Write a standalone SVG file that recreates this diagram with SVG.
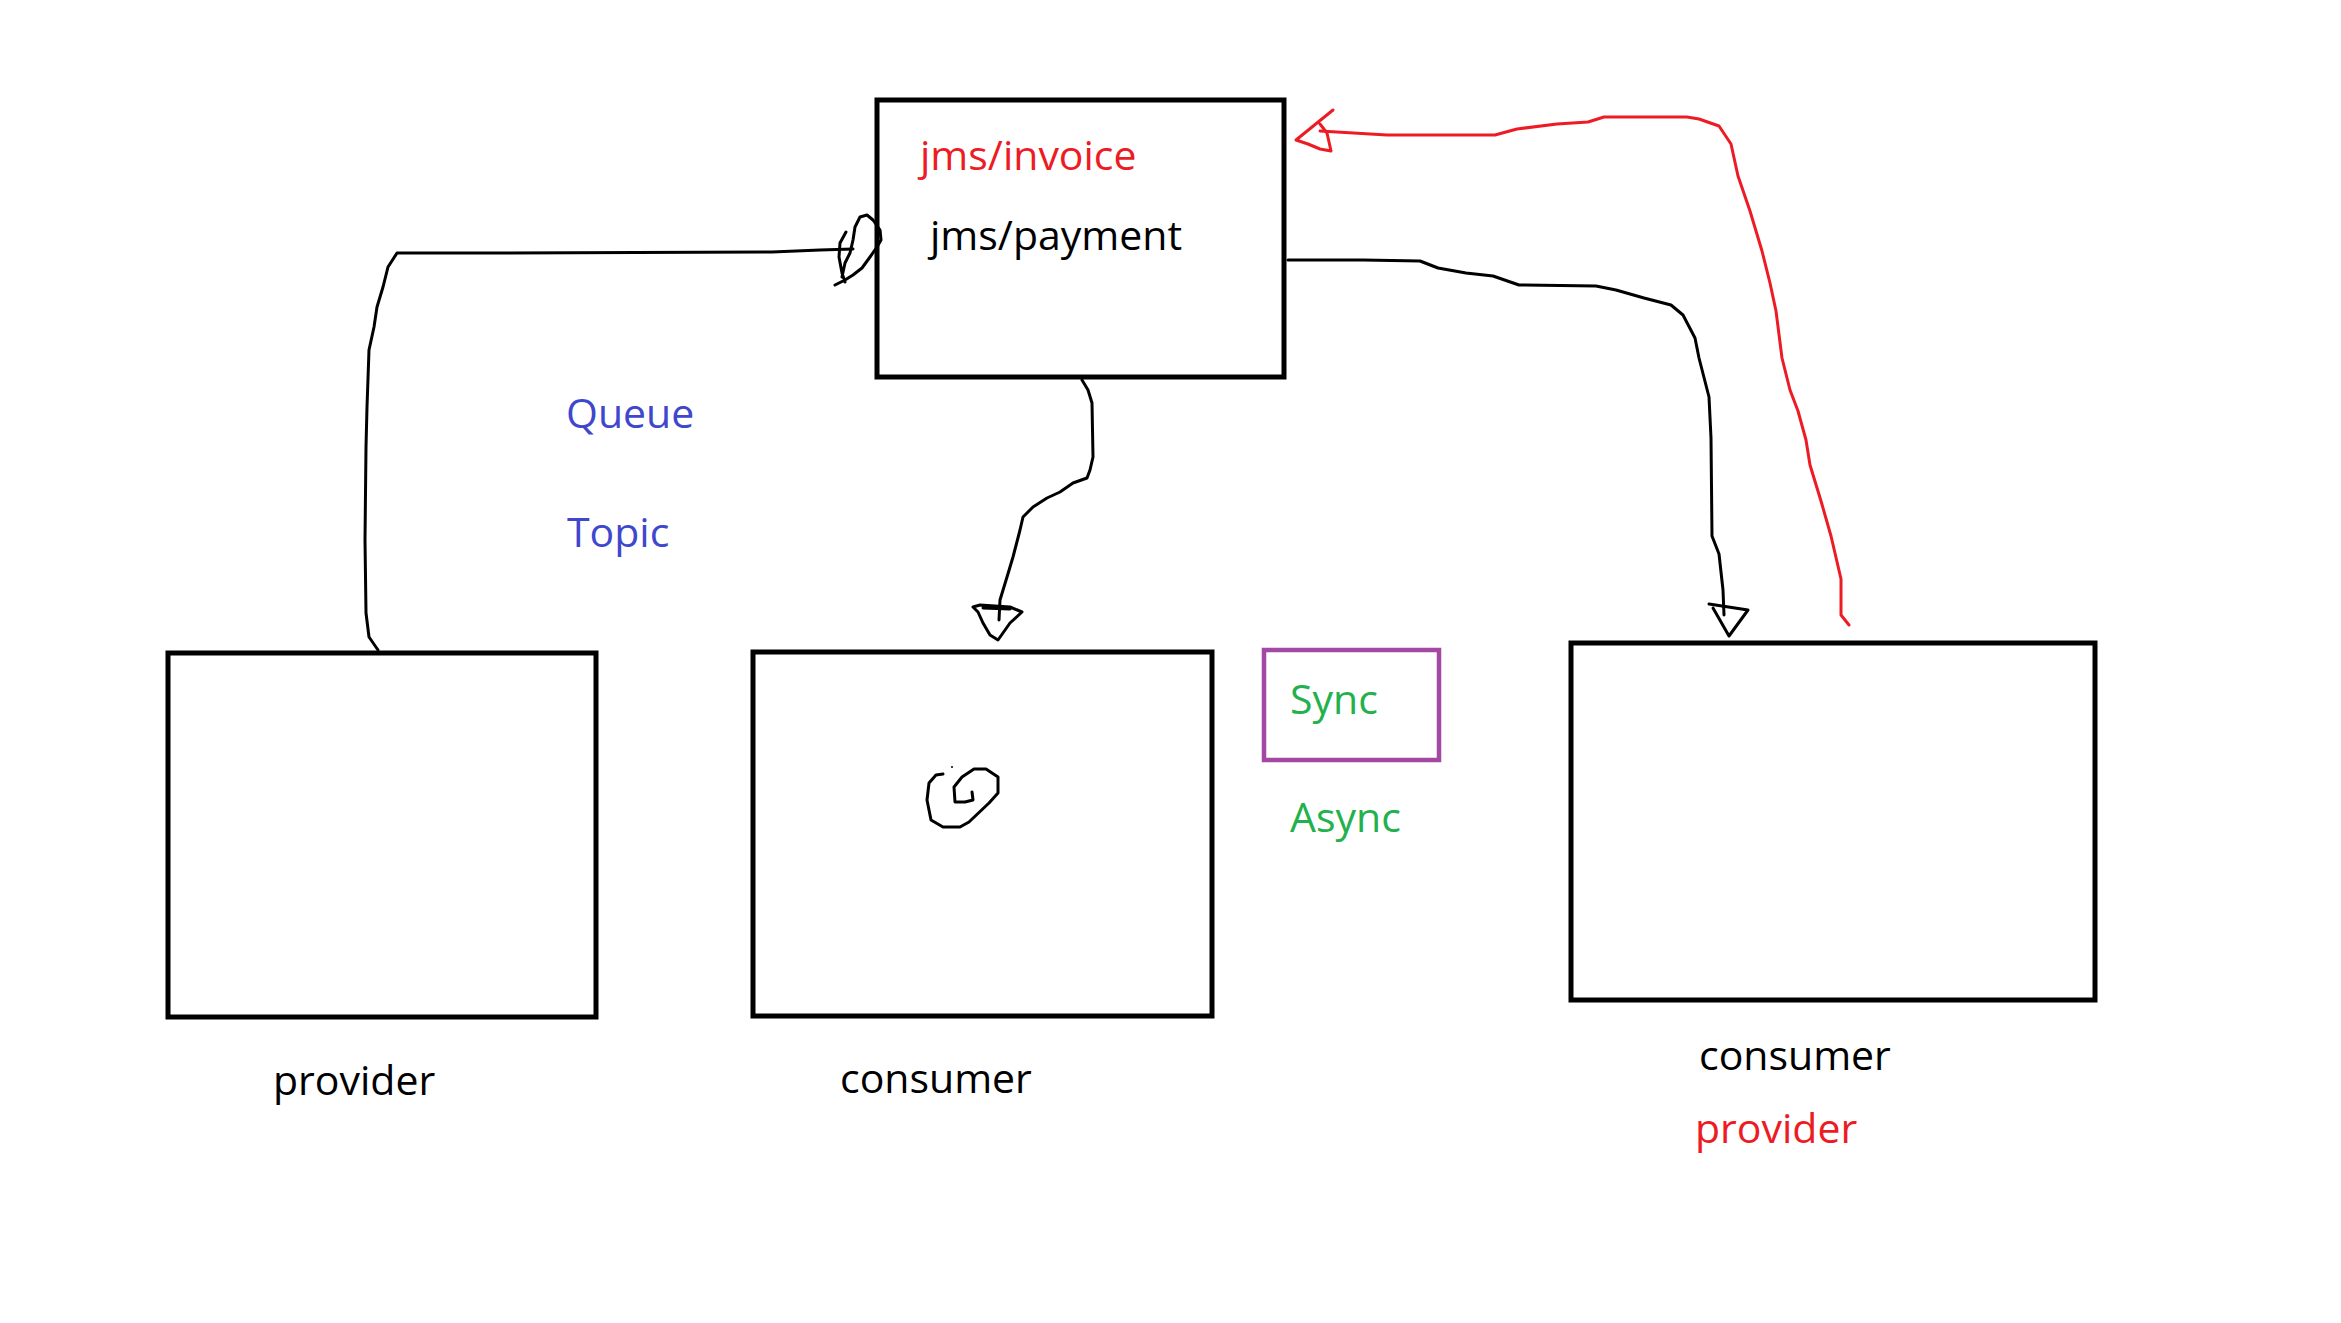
<svg xmlns="http://www.w3.org/2000/svg" width="2341" height="1323" viewBox="0 0 2341 1323">
<style>
.box{fill:none;stroke:#000;stroke-width:5}
.ln{fill:none;stroke:#000;stroke-width:3;stroke-linejoin:round;stroke-linecap:round}
.rd{fill:none;stroke:#ed1c24;stroke-width:3;stroke-linejoin:round;stroke-linecap:round}
text{font-family:"Open Sans","Noto Sans","Liberation Sans",sans-serif;font-size:41px}
.k{fill:#000}.r{fill:#ed1c24}.b{fill:#3f48cc}.g{fill:#22b14c}
</style>
<rect width="2341" height="1323" fill="#fff"/>
<g id="connectors">
<path class="ln" d="M378,650 L369,637 L366,613 L365,540 L366,447 L367,407 L369,350 L374,327 L377,307 L383,287 L388,267 L397,253 L476,253 L772,252 L820,250 L853,249"/>
<path class="ln" d="M835,285 L845,280 L853,275 L862,268 L870,257 L877,247 L881,240 L880,230 L873,220 L867,215 L860,217 L855,227 L853,240 L850,253 L845,263 L842,277 M846,232 L840,243 L839,257 L842,273 L845,282"/>
<path class="ln" d="M1082,380 L1088,390 L1092,403 L1093,457 L1090,470 L1087,478 L1073,483 L1060,492 L1047,498 L1033,507 L1023,517 L1020,530 L1013,557 L1007,577 L1000,600 L999,620"/>
<path class="ln" d="M973,607 L980,605 L1010,607 L1022,612 L1010,623 L998,640 L990,635 L983,623 L978,612 Z M983,608 L1010,609"/>
<path class="ln" d="M1288,260 L1339,260 L1363,260 L1420,261 L1438,268 L1466,273 L1493,276 L1519,285 L1596,286 L1616,290 L1644,298 L1671,305 L1683,315 L1695,338 L1699,358 L1709,397 L1711,438 L1712,536 L1719,554 L1723,590 L1724,615"/>
<path class="ln" d="M1709,604 L1748,610 L1729,636 L1713,608"/>
<path class="rd" d="M1849,625 L1841,615 L1841,579 L1831,536 L1821,501 L1810,465 L1806,440 L1798,411 L1790,390 L1782,358 L1776,311 L1770,283 L1762,251 L1750,211 L1738,176 L1731,144 L1719,126 L1699,119 L1687,117 L1604,117 L1588,122 L1557,124 L1517,129 L1495,135 L1387,135 L1320,131"/>
<path class="rd" d="M1333,110 L1296,140 L1308,144 L1320,149 L1331,151 L1327,133 L1320,124"/>
</g>
<g id="node-top">
<rect class="box" x="877" y="100" width="407" height="277"/>
<text class="r" x="920" y="170" font-size="43">jms/invoice</text>
<text class="k" x="930" y="250" font-size="43">jms/payment</text>
</g>
<g id="label-queue"><text class="b" x="566" y="428">Queue</text></g>
<g id="label-topic"><text class="b" x="567" y="547">Topic</text></g>
<g id="node-provider">
<rect class="box" x="168" y="653" width="428" height="364"/>
<text class="k" x="273" y="1095">provider</text>
</g>
<g id="node-consumer">
<rect class="box" x="753" y="652" width="459" height="364"/>
<path class="ln" d="M972,792 L973,800 L965,802 L955,802 L954,787 L962,777 L974,769 L986,769 L998,777 L998,793 L989,803 L969,822 L960,827 L943,827 L931,820 L927,800 L929,783 L936,775 L943,774"/>
<circle cx="952" cy="767" r="1" fill="#000"/>
<text class="k" x="840" y="1093">consumer</text>
</g>
<g id="node-sync">
<rect x="1264" y="650" width="175" height="110" fill="none" stroke="#a349a4" stroke-width="4.5"/>
<text class="g" x="1290" y="714">Sync</text>
</g>
<g id="label-async"><text class="g" x="1290" y="832">Async</text></g>
<g id="node-right">
<rect class="box" x="1571" y="643" width="524" height="357"/>
<text class="k" x="1699" y="1070">consumer</text>
<text class="r" x="1695" y="1143">provider</text>
</g>
</svg>
